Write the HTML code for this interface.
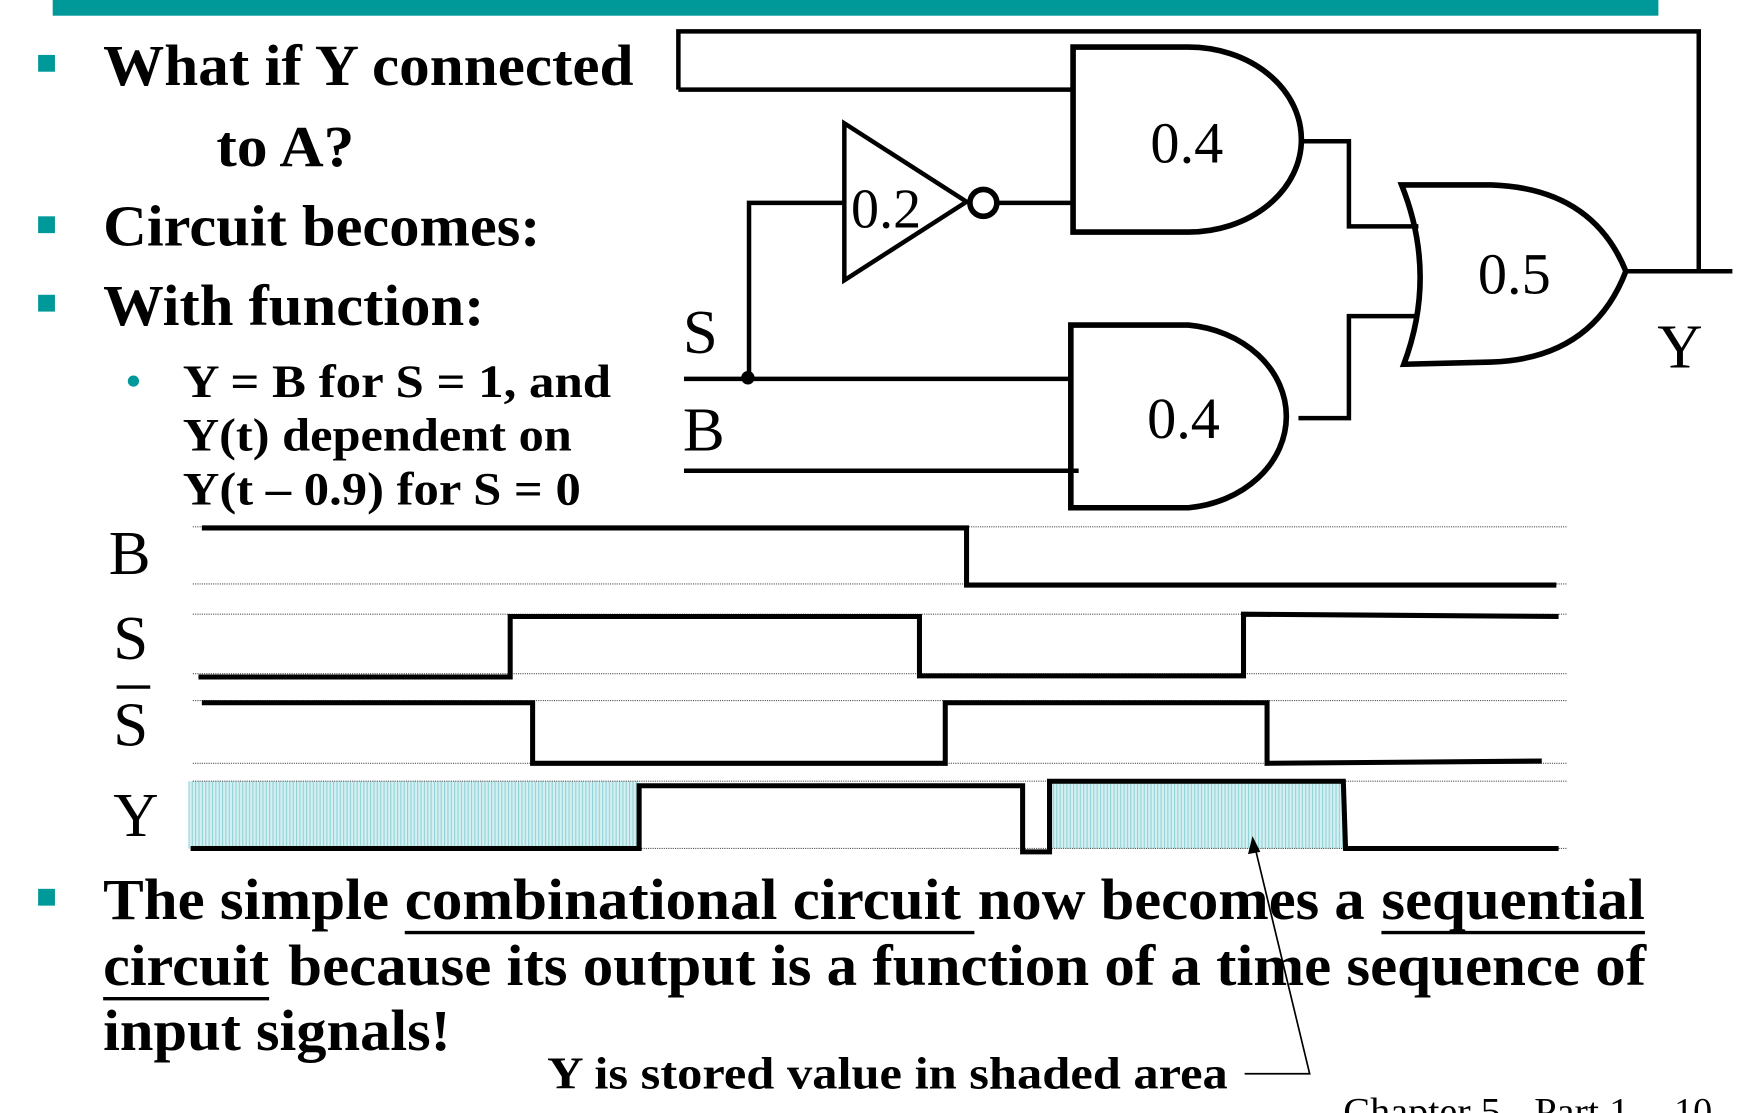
<!DOCTYPE html>
<html><head><meta charset="utf-8"><style>html,body{margin:0;padding:0;background:#fff}svg{display:block}</style></head>
<body>
<svg width="1738" height="1113" viewBox="0 0 1550 993" preserveAspectRatio="none" xmlns="http://www.w3.org/2000/svg">
<defs>
<pattern id="sh" width="3" height="3" patternUnits="userSpaceOnUse"><rect width="3" height="3" fill="#d6f0f2"/><rect width="1" height="3" fill="#8fd3d8"/></pattern>
</defs>
<rect x="47" y="0" width="1432" height="14" fill="#009999"/>
<g fill="#009999">
<rect x="34" y="49" width="15" height="15"/><rect x="34" y="193" width="15" height="15"/><rect x="34" y="263" width="15" height="15"/><rect x="34" y="793" width="15" height="15"/>
<circle cx="119" cy="340" r="5"/>
</g>
<g font-family="Liberation Serif, serif" font-weight="bold" fill="#000">
<text x="92" y="76" font-size="52" textLength="473" lengthAdjust="spacingAndGlyphs">What if Y connected</text>
<text x="193" y="148" font-size="52" textLength="123" lengthAdjust="spacingAndGlyphs">to A?</text>
<text x="92" y="219" font-size="52" textLength="390" lengthAdjust="spacingAndGlyphs">Circuit becomes:</text>
<text x="92" y="290" font-size="52" textLength="340" lengthAdjust="spacingAndGlyphs">With function:</text>
<text x="163" y="354" font-size="42" textLength="382" lengthAdjust="spacingAndGlyphs">Y = B for S = 1, and</text>
<text x="163" y="402" font-size="42" textLength="347" lengthAdjust="spacingAndGlyphs">Y(t) dependent on</text>
<text x="163" y="450" font-size="42" textLength="355" lengthAdjust="spacingAndGlyphs">Y(t – 0.9) for S = 0</text>
<text x="92" y="820" font-size="52" textLength="255" lengthAdjust="spacingAndGlyphs">The simple</text>
<text x="361" y="820" font-size="52" textLength="496" lengthAdjust="spacingAndGlyphs">combinational circuit</text>
<text x="872" y="820" font-size="52" textLength="345" lengthAdjust="spacingAndGlyphs">now becomes a</text>
<text x="1232" y="820" font-size="52" textLength="235" lengthAdjust="spacingAndGlyphs">sequential</text>
<text x="92" y="879" font-size="52" textLength="148" lengthAdjust="spacingAndGlyphs">circuit</text>
<text x="257" y="879" font-size="52" textLength="1211" lengthAdjust="spacingAndGlyphs">because its output is a function of a time sequence of</text>
<text x="92" y="937" font-size="52" textLength="310" lengthAdjust="spacingAndGlyphs">input signals!</text>
<text x="488" y="971" font-size="41" textLength="607" lengthAdjust="spacingAndGlyphs">Y is stored value in shaded area</text>
</g>
<g stroke="#000" stroke-width="3">
<line x1="361" y1="832" x2="869" y2="832"/><line x1="1232" y1="832" x2="1467" y2="832"/><line x1="92" y1="891" x2="240" y2="891"/>
</g>
<g font-family="Liberation Serif, serif" fill="#000">
<text x="1198" y="1003" font-size="34" textLength="255" lengthAdjust="spacingAndGlyphs">Chapter 5 - Part 1</text>
<text x="1493" y="1003" font-size="34" textLength="34" lengthAdjust="spacingAndGlyphs">10</text>
<text x="1026" y="145" font-size="52">0.4</text>
<text x="1023" y="391" font-size="52">0.4</text>
<text x="1318" y="262" font-size="52">0.5</text>
<text x="759" y="203" font-size="50">0.2</text>
<text x="609" y="315" font-size="56">S</text>
<text x="609" y="402" font-size="56">B</text>
<text x="1478" y="328" font-size="56">Y</text>
<text x="97" y="512" font-size="56">B</text>
<text x="101" y="588" font-size="56">S</text>
<text x="101" y="665" font-size="56">S</text>
<text x="101" y="746" font-size="56">Y</text>
</g>
<line x1="104" y1="613" x2="134" y2="613" stroke="#000" stroke-width="3"/>
<g stroke="#000" stroke-width="4" fill="none">
<polyline points="605,80 605,28 1515,28 1515,242"/>
<line x1="605" y1="80" x2="957" y2="80"/>
<line x1="889" y1="181" x2="957" y2="181"/>
<polyline points="753,181 668,181 668,337"/>
<line x1="610" y1="338" x2="957" y2="338"/>
<line x1="610" y1="420" x2="962" y2="420"/>
<polyline points="1160,126 1203,126 1203,202 1265,202"/>
<polyline points="1158,373 1203,373 1203,282 1262,282"/>
<line x1="1450" y1="242" x2="1545" y2="242"/>
</g>
<g stroke="#000" stroke-width="5" fill="none">
<path d="M957,42 H1060 A100,82 0 0 1 1060,207 H957 Z"/>
<path d="M955,290 H1060 A98,82 0 0 1 1060,453 H955 Z"/>
<path d="M753,110 L753,250 L862,180 Z" stroke-width="4"/>
<circle cx="877" cy="181" r="12"/>
<path d="M1250,165 Q1282,245 1252,325 L1330,323 Q1420,320 1450,242 Q1420,168 1330,165 Z"/>
</g>
<circle cx="667" cy="337" r="6" fill="#000"/>
<rect x="168" y="697" width="402" height="60" fill="url(#sh)"/>
<rect x="936" y="698" width="262" height="59" fill="url(#sh)"/>
<g stroke="#555" stroke-width="1" stroke-dasharray="1,1">
<line x1="172" y1="470" x2="1397" y2="470"/><line x1="172" y1="521" x2="1397" y2="521"/>
<line x1="172" y1="548" x2="1397" y2="548"/><line x1="172" y1="601" x2="1397" y2="601"/>
<line x1="172" y1="625" x2="1397" y2="625"/><line x1="172" y1="681" x2="1397" y2="681"/>
<line x1="172" y1="697" x2="1397" y2="697"/><line x1="172" y1="757" x2="1397" y2="757"/>
</g>
<g stroke="#000" stroke-width="4.5" fill="none">
<polyline points="180,471 862,471 862,522 1388,522"/>
<polyline points="177,604 455,604 455,550 820,550 820,603 1109,603 1109,548 1390,550"/>
<polyline points="180,627 475,627 475,681 843,681 843,627 1130,627 1130,681 1375,679"/>
<polyline points="170,757 570,757 570,701 912,701 912,760 936,760 936,697 1198,697 1200,757 1390,757"/>
</g>
<g stroke="#000" stroke-width="1.5" fill="none">
<polyline points="1110,958 1168,958 1119,755"/>
</g>
<path d="M1117,746 L1113,762 L1124,760 Z" fill="#000"/>
</svg>
</body></html>
